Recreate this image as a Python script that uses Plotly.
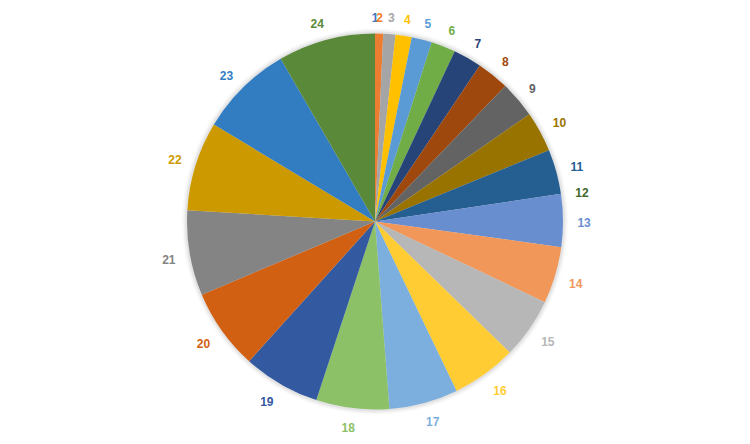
import math
import plotly.graph_objects as go

labels = [str(i) for i in range(1, 25)]
values = [0, 2, 3, 4, 5, 6, 7, 8, 9, 10, 11, 0,
          13, 14, 15, 16, 17, 18, 19, 20, 21, 22, 23, 24]
colors = ["#4472C4", "#ED7D31", "#A5A5A5", "#FFC000", "#5B9BD5", "#70AD47",
          "#264478", "#9E480E", "#636363", "#997300", "#255E91", "#43682B",
          "#698ED0", "#F1975A", "#B7B7B7", "#FFCD33", "#7CAFDD", "#8CC168",
          "#335AA1", "#D26012", "#848484", "#CC9A00", "#327DC2", "#5A8A39"]

W, H = 750, 444
CX, CY, R = 375.0, 221.5, 188.0
LABEL_GAP = 202.5        # distance of the label's inner edge from the centre
CHAR_HALF_W = 3.3
HALF_H_TOP, HALF_H_BOTTOM, BASE_SHIFT = 4.5, 2.0, 4.0
POLAR_R = 220.0


def dom(rad, cy=CY):
    return dict(x=[(CX - rad) / W, (CX + rad) / W],
                y=[1 - (cy + rad) / H, 1 - (cy - rad) / H])


def clip(v):
    return max(-1.0, min(1.0, v))


# label placement from the data: slice mid-angle, label box pushed outward
total = float(sum(values))
lab_r, lab_t = [], []
acc = 0.0
for lab, v in zip(labels, values):
    ang = math.radians((acc + v / 2.0) / total * 360.0)
    acc += v
    ux, uy = math.sin(ang), -math.cos(ang)
    hw = CHAR_HALF_W * len(lab)
    hh = HALF_H_BOTTOM if uy > 0 else HALF_H_TOP
    dx = LABEL_GAP * ux + hw * clip(3 * ux)
    dy = LABEL_GAP * uy + hh * clip(3 * uy) + BASE_SHIFT
    lab_r.append(math.hypot(dx, dy))
    lab_t.append(math.degrees(math.atan2(dx, -dy)))

fig = go.Figure()

# soft shadow around the pie
for extra, alpha in [(5.0, 0.025), (3.5, 0.035), (2.0, 0.05)]:
    fig.add_trace(go.Pie(
        values=[1], labels=["s"], sort=False,
        marker=dict(colors=["rgba(0,0,0,%s)" % alpha], line=dict(width=0)),
        textinfo="none", hoverinfo="skip", showlegend=False,
        domain=dom(R + extra),
    ))

fig.add_trace(go.Pie(
    labels=labels,
    values=values,
    sort=False,
    direction="clockwise",
    rotation=0,
    marker=dict(colors=colors, line=dict(width=0)),
    textinfo="none",
    showlegend=False,
    automargin=False,
    hoverinfo="label+value",
    domain=dom(R),
))

fig.add_trace(go.Scatterpolar(
    r=lab_r,
    theta=lab_t,
    mode="text",
    text=labels,
    textfont=dict(family="Liberation Sans", size=12, color=colors, weight="bold"),
    textposition="middle center",
    cliponaxis=False,
    hoverinfo="skip",
    showlegend=False,
))

fig.update_layout(
    width=W, height=H,
    margin=dict(l=0, r=0, t=0, b=0),
    paper_bgcolor="white",
    plot_bgcolor="white",
    polar=dict(
        domain=dom(POLAR_R),
        bgcolor="rgba(0,0,0,0)",
        radialaxis=dict(visible=False, range=[0, POLAR_R]),
        angularaxis=dict(visible=False, rotation=90, direction="clockwise"),
    ),
)
fig.write_html("out.html", post_script="document.body.style.margin='0';",
               config={"displayModeBar": False})
